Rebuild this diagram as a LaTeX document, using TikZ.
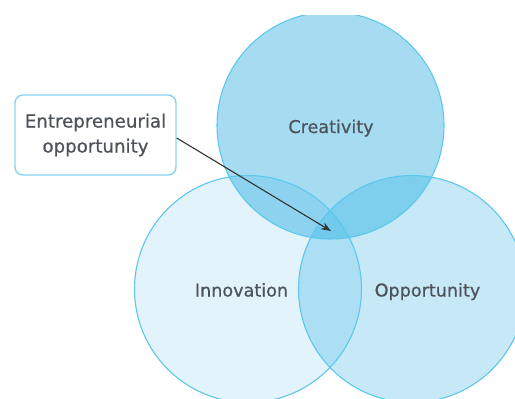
\documentclass[tikz,border=0pt]{standalone}
\usepackage{fontspec}
\setmainfont{DejaVu Sans}
\newfontfamily\labelfont[FakeBold=0.6]{DejaVu Sans}
\usetikzlibrary{arrows.meta}
\definecolor{ringline}{HTML}{5CC8EC}
\definecolor{boxline}{HTML}{86D5F1}
\definecolor{creafill}{HTML}{A6DCF2}
\definecolor{innofill}{HTML}{E3F3FB}
\definecolor{oppofill}{HTML}{C6E8F7}
\definecolor{ciover}{HTML}{8DD3EF}
\definecolor{coover}{HTML}{7ECFEE}
\definecolor{ioover}{HTML}{ACDEF4}
\definecolor{allover}{HTML}{70CAEC}
\definecolor{labeltext}{HTML}{4E5359}
\definecolor{pointer}{HTML}{333333}
\tikzset{
  ringlabel/.style={font=\labelfont\fontsize{17.6}{20}\selectfont, text=labeltext,
    inner sep=0pt, anchor=base},
  calloutbox/.style={draw=boxline, line width=1.4pt, fill=white, rounded corners=8pt,
    minimum width=161pt, minimum height=80pt, align=center,
    font=\labelfont\fontsize{18.2}{25}\selectfont, text=labeltext},
  pointerline/.style={draw=pointer, line width=1.1pt, -{Stealth[length=10pt,width=7.5pt]}},
  ring/.style={draw=ringline, line width=1.1pt}
}
\begin{document}
\begin{tikzpicture}[x=1pt,y=-1pt]
\useasboundingbox (0,0) rectangle (515,399);
\def\rr{113.5}
\coordinate (cc) at (330.5,125.5);
\coordinate (ci) at (248,289);
\coordinate (co) at (412,289);
\begin{scope}
  \clip (0,15) rectangle (515,399);
  % single-circle fills
  \fill[creafill] (cc) circle[radius=\rr];
  \fill[innofill] (ci) circle[radius=\rr];
  \fill[oppofill] (co) circle[radius=\rr];
  % pairwise overlaps
  \begin{scope}
    \clip (cc) circle[radius=\rr];
    \fill[ciover] (ci) circle[radius=\rr];
    \fill[coover] (co) circle[radius=\rr];
  \end{scope}
  \begin{scope}
    \clip (ci) circle[radius=\rr];
    \fill[ioover] (co) circle[radius=\rr];
    \clip (co) circle[radius=\rr];
    \fill[allover] (cc) circle[radius=\rr];
  \end{scope}
  % outlines on top
  \draw[ring] (cc) circle[radius=\rr];
  \draw[ring] (ci) circle[radius=\rr];
  \draw[ring] (co) circle[radius=\rr];
\end{scope}
\node[ringlabel] (crea) at (331,133) {Creativity};
\node[ringlabel] (inno) at (241.5,296.5) {Innovation};
\node[ringlabel] (oppo) at (427.5,296.5) {Opportunity};
\node[calloutbox] (box) at (95.5,135) {Entrepreneurial\\opportunity};
\coordinate (tip) at (331,231);
\draw[pointerline] ([yshift=-3pt]box.east) -- (tip);
\end{tikzpicture}
\end{document}
